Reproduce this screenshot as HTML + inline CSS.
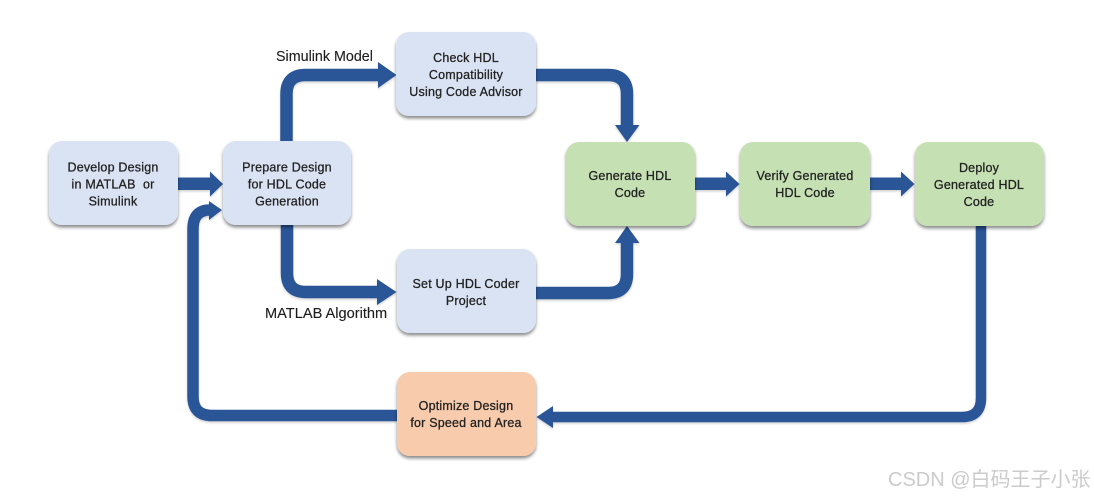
<!DOCTYPE html>
<html>
<head>
<meta charset="utf-8">
<style>
html,body{margin:0;padding:0;background:#fff;width:1094px;height:496px;overflow:hidden}
svg{display:block}
text{font-family:"Liberation Sans",sans-serif;white-space:pre}
.t{font-size:12.5px;fill:#222;text-anchor:middle;letter-spacing:.2px;stroke:#222;stroke-width:.28px;filter:url(#soft)}
.l{fill:#1c1c1c;stroke:#1c1c1c;stroke-width:.12px;filter:url(#soft)}
.w{font-family:"Liberation Sans","Noto Sans CJK SC",sans-serif;font-size:20px;fill:#cbcbcb;filter:url(#soft)}
.a{fill:none;stroke:#2b5597;stroke-width:12.500}
.h{fill:#2b5597}
</style>
</head>
<body>
<svg width="1094" height="496" viewBox="0 0 1094 496" xmlns="http://www.w3.org/2000/svg">
<defs>
<filter id="sh" x="-15%" y="-15%" width="130%" height="135%">
<feDropShadow dx="0" dy="2.5" stdDeviation="1.6" flood-color="#000" flood-opacity=".45"/>
</filter>
<filter id="ash" x="-5%" y="-5%" width="110%" height="110%">
<feGaussianBlur in="SourceGraphic" stdDeviation=".3" result="b"/>
<feDropShadow in="b" dx="0" dy="1.500" stdDeviation="1" flood-color="#000" flood-opacity=".18"/>
</filter>
<filter id="soft" x="-5%" y="-20%" width="110%" height="140%"><feGaussianBlur stdDeviation=".35"/></filter>
</defs>

<g filter="url(#ash)">
<rect x="178" y="177.500" width="33" height="12.500" class="h"/>
<polygon points="210,171.500 223,184 210,196.500" class="h"/>

<path d="M286.500 142 V94 Q286.500 75 305.500 75 H380" class="a"/>
<polygon points="378,62 396.500,75 378,88" class="h"/>

<path d="M287 225 V273 Q287 292 306 292 H380" class="a"/>
<polygon points="377,279 396.500,292 377,305" class="h"/>

<path d="M536 75 H608 Q627 75 627 94 V127" class="a"/>
<polygon points="615,125 639.500,125 627,142" class="h"/>

<path d="M536 293 H608 Q627 293 627 274 V242" class="a"/>
<polygon points="615,243 639.500,243 627,226" class="h"/>

<rect x="695" y="177.500" width="33" height="12.500" class="h"/>
<polygon points="726,171.500 739.500,184 726,196.500" class="h"/>

<rect x="870" y="177.500" width="33" height="12.500" class="h"/>
<polygon points="901,171.500 914.500,184 901,196.500" class="h"/>

<path d="M981 226 V398 Q981 417 962 417 H551" class="a" style="stroke-width:10.500"/>
<polygon points="553,406 536.500,417 553,428" class="h"/>

<path d="M397 415.500 H212 Q193 415.500 193 396.500 V229 Q193 210 210 210" class="a" style="stroke-width:11.500"/>
<polygon points="209,201 222,210 209,220" class="h"/>
</g>

<g filter="url(#sh)">
<rect x="49" y="141" width="129" height="84" rx="13" fill="#dae3f3"/>
<rect x="223" y="141" width="128" height="84" rx="13" fill="#dae3f3"/>
<rect x="396" y="32" width="140" height="84" rx="13" fill="#dae3f3"/>
<rect x="397" y="249" width="139" height="84" rx="13" fill="#dae3f3"/>
<rect x="397" y="372" width="139" height="84" rx="13" fill="#f8cbad"/>
<rect x="566" y="142" width="129" height="84" rx="13" fill="#c5e0b3"/>
<rect x="740" y="142" width="130" height="84" rx="13" fill="#c5e0b3"/>
<rect x="915" y="142" width="129" height="84" rx="13" fill="#c5e0b3"/>
</g>

<text class="t" x="113" y="171.500">Develop Design</text>
<text class="t" x="113" y="188.500">in MATLAB  or</text>
<text class="t" x="113" y="205.500">Simulink</text>

<text class="t" x="287" y="171.500">Prepare Design</text>
<text class="t" x="287" y="188.500">for HDL Code</text>
<text class="t" x="287" y="205.500">Generation</text>

<text class="t" x="466" y="62">Check HDL</text>
<text class="t" x="466" y="79">Compatibility</text>
<text class="t" x="466" y="96">Using Code Advisor</text>

<text class="t" x="466" y="288">Set Up HDL Coder</text>
<text class="t" x="466" y="305">Project</text>

<text class="t" x="466" y="410">Optimize Design</text>
<text class="t" x="466" y="427">for Speed and Area</text>

<text class="t" x="630" y="180">Generate HDL</text>
<text class="t" x="630" y="197">Code</text>

<text class="t" x="805" y="180">Verify Generated</text>
<text class="t" x="805" y="197">HDL Code</text>

<text class="t" x="979" y="172">Deploy</text>
<text class="t" x="979" y="189">Generated HDL</text>
<text class="t" x="979" y="206">Code</text>

<text class="l" x="276" y="61" style="font-size:14.300px">Simulink Model</text>
<text class="l" x="265" y="318" style="font-size:14.600px">MATLAB Algorithm</text>

<text class="w" x="888" y="486">CSDN @白码王子小张</text>
</svg>
</body>
</html>
